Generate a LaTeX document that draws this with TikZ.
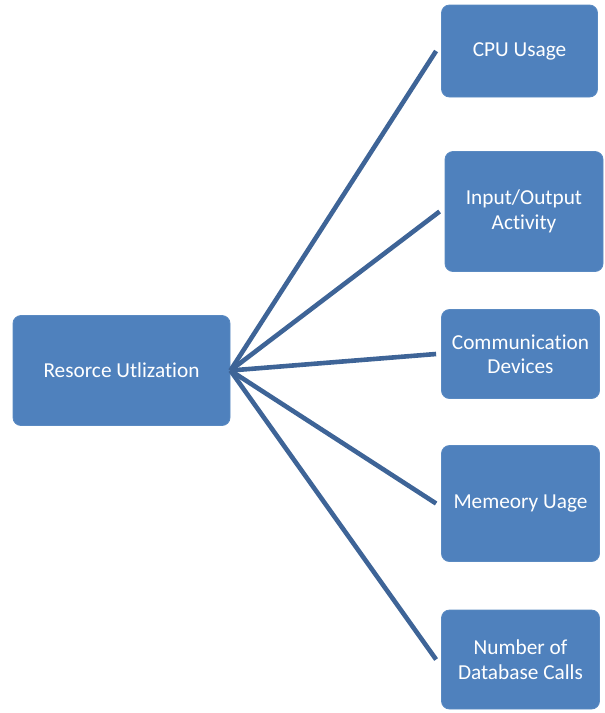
\documentclass[tikz,border=0pt]{standalone}
\usepackage{fontspec}
\setmainfont{Carlito}[Ligatures={NoCommon}]
\definecolor{boxfill}{HTML}{4F81BD}
\definecolor{boxedge}{HTML}{5A8AC2}
\definecolor{linkcol}{HTML}{3E6497}
\begin{document}
\begin{tikzpicture}[x=1pt,y=-1pt,
  box/.style={draw=boxedge,line width=0.8pt,fill=boxfill,rounded corners=8pt,
    text=white,align=center,inner sep=0pt,
    font=\fontsize{21.3}{24.5}\selectfont},
  link/.style={draw=linkcol,line width=4.6pt}]
\useasboundingbox (0,0) rectangle (605,713);
\node[box,minimum width=217pt,minimum height=110pt] (res) at (121.5,370.5) {Resorce Utlization};
\node[box,minimum width=156pt,minimum height=92pt] (cpu) at (519.5,51) {CPU Usage};
\node[box,minimum width=158pt,minimum height=120pt] (io) at (524,211.5) {Input/Output\\Activity};
\node[box,minimum width=158pt,minimum height=89pt] (com) at (520.5,354) {Communication\\Devices};
\node[box,minimum width=158pt,minimum height=116pt] (mem) at (520.5,503.5) {Memeory Uage};
\node[box,minimum width=158pt,minimum height=99pt] (db) at (520.5,659.5) {Number of\\Database Calls};
\coordinate (hub) at (res.east);
\foreach \t in {cpu,io,com,mem,db}{
  \draw[link] (hub) -- ([xshift=-5pt]\t.west);
}
\end{tikzpicture}
\end{document}
